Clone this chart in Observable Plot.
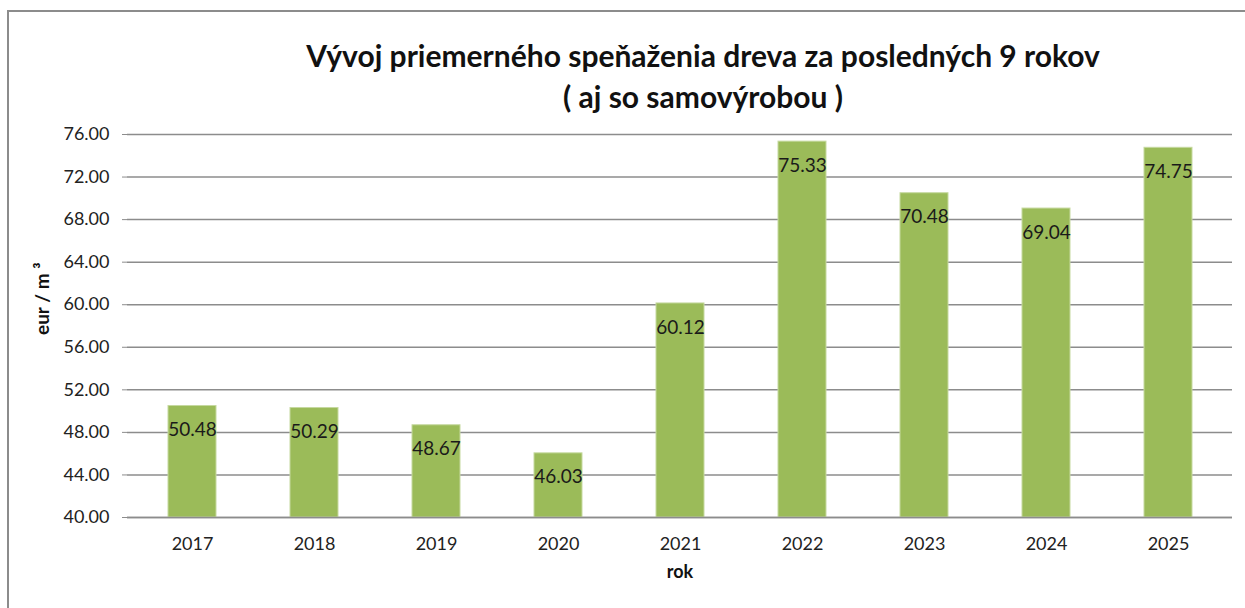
<!DOCTYPE html>
<html>
<head>
<meta charset="utf-8">
<script src="https://cdn.jsdelivr.net/npm/d3@7"></script>
<script src="https://cdn.jsdelivr.net/npm/@observablehq/plot@0.6"></script>
<style>
  html, body { margin: 0; padding: 0; background: #fff; }
  #wrap { position: relative; width: 1245px; height: 608px; overflow: hidden; font-family: Lato, "Open Sans", sans-serif; }
  #frame { position: absolute; left: 7px; top: 10px; width: 1300px; height: 700px; border: 2px solid #8c8c8c; box-sizing: border-box; }
  #title { position: absolute; left: 0; top: 35px; width: 1406px; text-align: center; font-weight: bold; font-size: 30px; line-height: 41px; color: #111; }
  #chart { position: absolute; left: 0; top: 120px; }
</style>
</head>
<body>
<div id="wrap">
  <div id="frame"></div>
  <div id="title">Vývoj priemerného speňaženia dreva za posledných 9 rokov<br>( aj so samovýrobou )</div>
  <div id="chart"></div>
</div>
<script>
const years = ["2017", "2018", "2019", "2020", "2021", "2022", "2023", "2024", "2025"];
const values = [50.48, 50.29, 48.67, 46.03, 60.12, 75.33, 70.48, 69.04, 74.75];
const yTicks = [40, 44, 48, 52, 56, 60, 64, 68, 72, 76];
const yLabel = "eur / m ³";
const xLabel = "rok";

const data = years.map((y, i) => ({ year: y, value: values[i] }));

const chart = Plot.plot({
  width: 1245,
  height: 488,
  marginTop: 14,
  marginBottom: 91,
  marginLeft: 127,
  marginRight: 13,
  style: { fontFamily: "Lato, 'Open Sans', sans-serif", background: "transparent" },
  x: { domain: years, paddingInner: 0.61, paddingOuter: 0.305, label: null },
  y: { domain: [40, 76], label: null },
  marks: [
    Plot.gridY(yTicks, { stroke: "#8c8c8c", strokeOpacity: 1, strokeWidth: 1.5 }),
    Plot.axisY(yTicks, { tickFormat: d => d.toFixed(2), tickSize: 5, tickPadding: 13, stroke: "#8c8c8c", fontSize: 18, fill: "#222", label: null }),
    Plot.ruleX([0], { frameAnchor: "left", stroke: "#8c8c8c", strokeWidth: 1.5 }),
    Plot.barY(data, { x: "year", y1: 40, y2: "value", fill: "#9bbb59", stroke: "#c6d9a0", strokeWidth: 1 }),
    Plot.ruleY([40], { stroke: "#8c8c8c", strokeWidth: 1.5 }),
    Plot.axisX({ tickSize: 0, tickPadding: 20, fontSize: 18, fill: "#222", label: null }),
    Plot.text(data, { x: "year", y: "value", text: d => d.value.toFixed(2), dy: 24, fontSize: 19, fill: "#1a1a1a" }),
    Plot.text([yLabel], { frameAnchor: "left", dx: -85, dy: 9, rotate: -90, fontSize: 19, fontWeight: "bold", fill: "#111" }),
    Plot.text([xLabel], { frameAnchor: "bottom", dy: 60, fontSize: 18, fontWeight: "bold", fill: "#111" })
  ]
});
document.getElementById("chart").appendChild(chart);
</script>
</body>
</html>
